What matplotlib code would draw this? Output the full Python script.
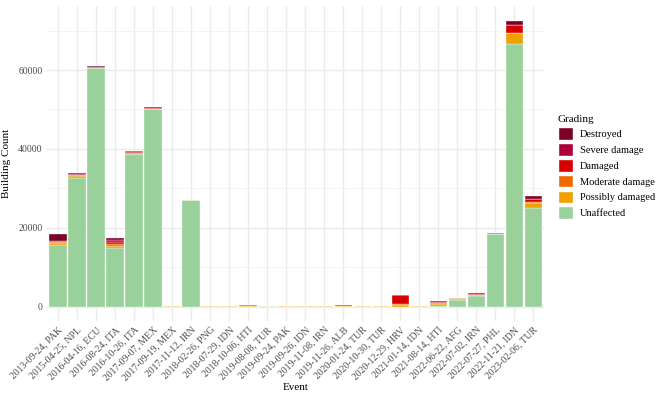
import matplotlib

matplotlib.use("Agg")
import matplotlib.pyplot as plt
import numpy as np
from matplotlib.patches import Patch

plt.rcParams["font.family"] = ["Liberation Serif", "DejaVu Serif"]

events = [
    "2013-09-24, PAK", "2015-04-25, NPL", "2016-04-16, ECU", "2016-08-24, ITA",
    "2016-10-26, ITA", "2017-09-07, MEX", "2017-09-19, MEX", "2017-11-12, IRN",
    "2018-02-26, PNG", "2018-07-29, IDN", "2018-10-06, HTI", "2019-08-08, TUR",
    "2019-09-24, PAK", "2019-09-26, IDN", "2019-11-08, IRN", "2019-11-26, ALB",
    "2020-01-24, TUR", "2020-10-30, TUR", "2020-12-29, HRV", "2021-01-14, IDN",
    "2021-08-14, HTI", "2022-06-22, AFG", "2022-07-02, IRN", "2022-07-27, PHL",
    "2022-11-21, IDN", "2023-02-06, TUR",
]

unaffected = [15500, 32600, 60400, 14950, 38600, 50000, 0, 27000, 0, 0, 0, 50, 0,
              0, 0, 0, 0, 0, 0, 0, 200, 1600, 2600, 18400, 66600, 25100]
possibly = [700, 600, 0, 400, 200, 200, 100, 0, 50, 100, 100, 0, 100,
            50, 50, 50, 50, 50, 400, 100, 500, 400, 300, 100, 2700, 1200]
moderate = [200, 100, 0, 600, 100, 0, 50, 0, 0, 0, 0, 0, 0,
            50, 50, 100, 50, 50, 200, 0, 200, 100, 0, 0, 200, 200]
damaged = [150, 200, 300, 400, 400, 300, 0, 0, 0, 0, 300, 0, 0,
           0, 0, 100, 0, 0, 2300, 0, 200, 0, 200, 100, 1800, 700]
severe = [150, 100, 200, 500, 100, 0, 0, 0, 0, 0, 0, 0, 0,
          0, 0, 50, 0, 0, 0, 0, 100, 0, 100, 0, 200, 200]
destroyed = [1700, 200, 100, 600, 0, 200, 0, 0, 0, 0, 0, 0, 0,
             0, 0, 0, 0, 0, 0, 0, 150, 0, 150, 0, 1000, 700]

grades = ["Unaffected", "Possibly damaged", "Moderate damage",
          "Damaged", "Severe damage", "Destroyed"]
series = [unaffected, possibly, moderate, damaged, severe, destroyed]
colours = ["#9ad09a", "#f0a000", "#f06a00", "#d60000", "#b0003c", "#7d0026"]

fig = plt.figure(figsize=(6.64, 3.99), dpi=100)
ax = fig.add_axes([0.0702, 0.1955, 0.7498, 0.790])

x = np.arange(len(events))
bottom = np.zeros(len(events))
for vals, col in zip(series, colours):
    ax.bar(x, vals, bottom=bottom, width=0.9, color=col,
           edgecolor="white", linewidth=0.25, zorder=3)
    bottom += np.array(vals)

ax.set_xlim(-0.6, len(events) - 0.4)
ax.set_ylim(-3650, 76300)
ax.set_yticks([0, 20000, 40000, 60000])
ax.set_yticks([10000, 30000, 50000, 70000], minor=True)
ax.set_xticks(x)
ax.set_xticklabels(events, rotation=45, ha="right", va="top",
                   rotation_mode="anchor", fontsize=7, color="#4d4d4d")
ax.tick_params(axis="y", labelsize=7, labelcolor="#4d4d4d")
ax.tick_params(which="both", length=0, pad=3)

ax.grid(which="major", color="#ebebeb", linewidth=1.0, zorder=0)
ax.grid(which="minor", axis="y", color="#f3f3f3", linewidth=0.6, zorder=0)
for s in ax.spines.values():
    s.set_visible(False)

ax.set_xlabel("Event", fontsize=8, labelpad=0)
ax.set_ylabel("Building Count", fontsize=8, labelpad=5)

handles = [Patch(facecolor=c, edgecolor="white", label=g)
           for g, c in zip(grades[::-1], colours[::-1])]
fig.legend(handles=handles, title="Grading", loc="upper left",
           bbox_to_anchor=(0.826, 0.735), frameon=False, fontsize=7.5,
           title_fontsize=8, handlelength=1.5, handleheight=1.5,
           handletextpad=0.6, labelspacing=0.3, alignment="left")

fig.savefig("out.png", dpi=100)
